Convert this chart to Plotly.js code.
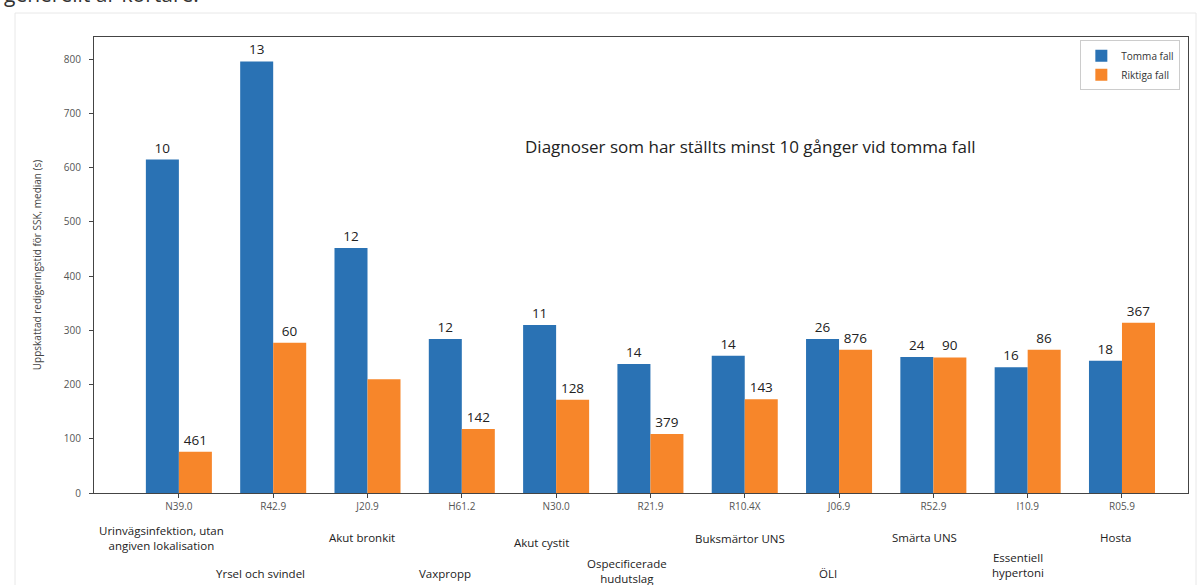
<!DOCTYPE html>
<html>
<head>
<meta charset="utf-8">
<script src="https://cdn.plot.ly/plotly-3.0.1.min.js"></script>
<style>
  html, body { margin: 0; padding: 0; background: #ffffff; }
  #chart { width: 1202px; height: 585px; }
</style>
</head>
<body>
<div id="chart"></div>
<script>
// Diagnosis codes (x categories) and their names
const codes = ["N39.0", "R42.9", "J20.9", "H61.2", "N30.0", "R21.9", "R10.4X", "J06.9", "R52.9", "I10.9", "R05.9"];
const names = [
  "Urinvägsinfektion, utan<br>angiven lokalisation",
  "Yrsel och svindel",
  "Akut bronkit",
  "Vaxpropp",
  "Akut cystit",
  "Ospecificerade<br>hudutslag",
  "Buksmärtor UNS",
  "ÖLI",
  "Smärta UNS",
  "Essentiell<br>hypertoni",
  "Hosta"
];

// Median estimated editing time (s)
const tommaValues   = [615, 796, 452, 284, 310, 238, 253, 284, 251, 232, 244];
const riktigaValues = [76, 277, 210, 118, 172, 109, 173, 264, 250, 264, 314];

// Number of cases behind each median
const tommaCounts   = ["10", "13", "12", "12", "11", "14", "14", "26", "24", "16", "18"];
const riktigaCounts = ["461", "60", "", "142", "128", "379", "143", "876", "90", "86", "367"];

// Layout of the diagnosis-name labels under the axis
const nameShift = [-0.18, -0.13, -0.06, -0.18, -0.16, -0.25, -0.05, -0.12, -0.09, -0.10, -0.07];
const nameRowPx = [538, 573, 537, 573, 542, 571, 538, 573, 537, 565, 537];

const W = 1202, H = 585;
const M = { l: 94, r: 14, t: 37, b: 92 };
const plotW = W - M.l - M.r;
const plotH = H - M.t - M.b;
const zeroPx = H - M.b;

const blue = "#2a72b4";
const orange = "#f7862a";
const labelFont = { family: "Open Sans, sans-serif", size: 13.5, color: "#222" };

const traces = [
  {
    type: "bar",
    name: "Tomma fall",
    x: codes,
    y: tommaValues,
    text: tommaCounts,
    textposition: "outside",
    textfont: labelFont,
    cliponaxis: false,
    marker: { color: blue },
    hoverinfo: "x+y"
  },
  {
    type: "bar",
    name: "Riktiga fall",
    x: codes,
    y: riktigaValues,
    text: riktigaCounts,
    textposition: "outside",
    textfont: labelFont,
    cliponaxis: false,
    marker: { color: orange },
    hoverinfo: "x+y"
  }
];

const annotations = names.map((n, i) => ({
  text: n,
  xref: "x",
  yref: "paper",
  x: i + nameShift[i],
  y: (zeroPx - nameRowPx[i]) / plotH,
  xanchor: "center",
  yanchor: "middle",
  showarrow: false,
  align: "center",
  font: { family: "Open Sans, sans-serif", size: 11.5, color: "#222" }
}));

annotations.push({
  text: "Diagnoser som har ställts minst 10 gånger vid tomma fall",
  xref: "paper",
  yref: "paper",
  x: (523 - M.l) / plotW,
  y: (zeroPx - 146) / plotH,
  xanchor: "left",
  yanchor: "middle",
  showarrow: false,
  font: { family: "Open Sans, sans-serif", size: 17, color: "#222" }
});

// Tail of the preceding paragraph, running off the top edge
annotations.push({
  text: "generellt är kortare.",
  xref: "paper",
  yref: "paper",
  x: (2 - M.l) / plotW,
  y: (zeroPx + 6) / plotH,
  xanchor: "left",
  yanchor: "middle",
  showarrow: false,
  font: { family: "Open Sans, sans-serif", size: 21, color: "#333" }
});

const layout = {
  width: W,
  height: H,
  margin: M,
  paper_bgcolor: "#ffffff",
  plot_bgcolor: "#ffffff",
  barmode: "group",
  bargap: 0.3,
  bargroupgap: 0,
  showlegend: true,
  legend: {
    x: 0.993, y: 0.993, xanchor: "right", yanchor: "top",
    bgcolor: "#ffffff",
    bordercolor: "#cccccc",
    borderwidth: 1,
    font: { family: "Open Sans, sans-serif", size: 10, color: "#333" },
    tracegroupgap: 2
  },
  xaxis: {
    type: "category",
    range: [-0.9, 10.7],
    showline: true,
    linecolor: "#444",
    linewidth: 1,
    mirror: true,
    ticks: "outside",
    ticklen: 4,
    tickcolor: "#444",
    showgrid: false,
    zeroline: false,
    tickfont: { family: "Open Sans, sans-serif", size: 10, color: "#555" }
  },
  yaxis: {
    range: [0, 841],
    tickvals: [0, 100, 200, 300, 400, 500, 600, 700, 800],
    showline: true,
    linecolor: "#444",
    linewidth: 1,
    mirror: true,
    ticks: "outside",
    ticklen: 4,
    tickcolor: "#444",
    ticklabelstandoff: 6,
    showgrid: false,
    zeroline: false,
    tickfont: { family: "Open Sans, sans-serif", size: 10, color: "#555" },
    title: {
      text: "Uppskattad redigeringstid för SSK, median (s)",
      font: { family: "Open Sans, sans-serif", size: 10, color: "#444" },
      standoff: 20
    }
  },
  shapes: [
    {
      type: "rect", xref: "paper", yref: "paper",
      x0: (15 - M.l) / plotW, x1: (1196 - M.l) / plotW,
      y0: (zeroPx - 600) / plotH, y1: (zeroPx - 13) / plotH,
      line: { color: "#e8e8e8", width: 1 },
      layer: "below"
    }
  ],
  annotations: annotations
};

Plotly.newPlot("chart", traces, layout, { displayModeBar: false, staticPlot: true });
</script>
</body>
</html>
